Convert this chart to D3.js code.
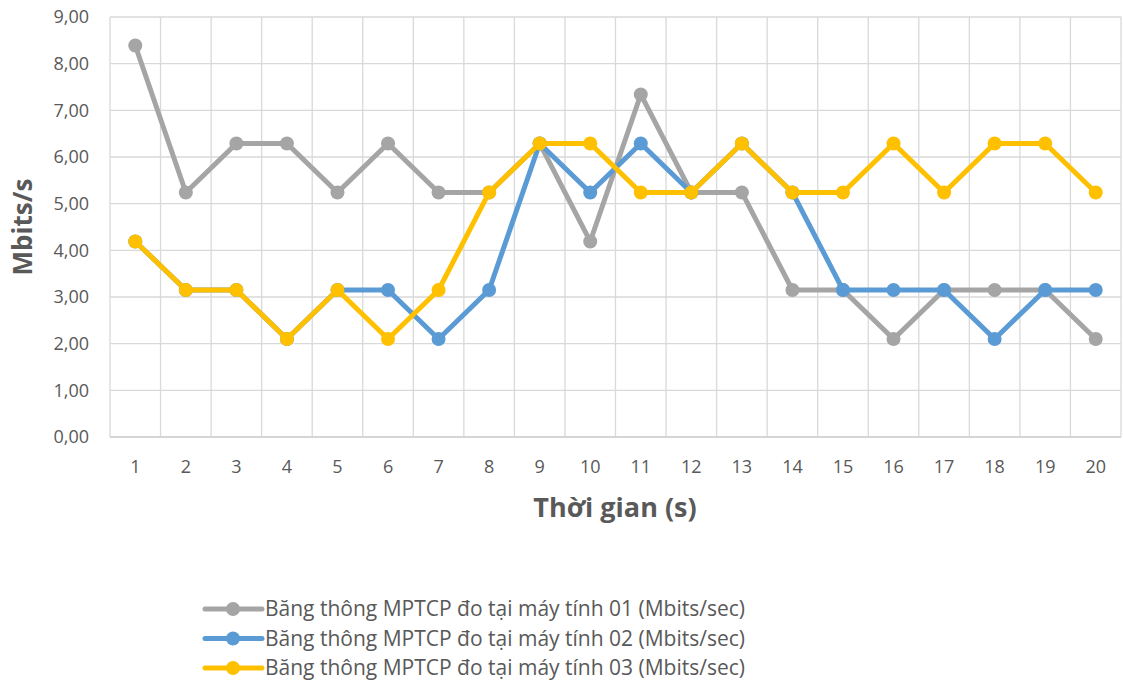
<!DOCTYPE html>
<html><head><meta charset="utf-8">
<script src="https://cdn.jsdelivr.net/npm/d3@7"></script>
<style>body{margin:0;background:#fff}svg{display:block}</style>
</head><body>
<svg id="c" width="1123" height="683"></svg>
<script>
const categories = ["1","2","3","4","5","6","7","8","9","10","11","12","13","14","15","16","17","18","19","20"];
const seriesNames = [
  "Băng thông MPTCP đo tại máy tính 01 (Mbits/sec)",
  "Băng thông MPTCP đo tại máy tính 02 (Mbits/sec)",
  "Băng thông MPTCP đo tại máy tính 03 (Mbits/sec)"
];
const may01 = [8.39,5.24,6.29,6.29,5.24,6.29,5.24,5.24,6.29,4.19,7.34,5.24,5.24,3.15,3.15,2.10,3.15,3.15,3.15,2.10];
const may02 = [4.19,3.15,3.15,2.10,3.15,3.15,2.10,3.15,6.29,5.24,6.29,5.24,6.29,5.24,3.15,3.15,3.15,2.10,3.15,3.15];
const may03 = [4.19,3.15,3.15,2.10,3.15,2.10,3.15,5.24,6.29,6.29,5.24,5.24,6.29,5.24,5.24,6.29,5.24,6.29,6.29,5.24];
const yTicks = [0,1,2,3,4,5,6,7,8,9];
const colors = ["#A5A5A5","#5B9BD5","#FFC000"];
const xTitle = "Thời gian (s)";
const yTitle = "Mbits/s";

const svg = d3.select("#c");
const font = "'Open Sans', Calibri, sans-serif";
const L = 110, R = 1121, T = 17, B = 437;
const x = d3.scaleBand().domain(categories).range([L, R]);
const y = d3.scaleLinear().domain([0, 9]).range([B, T]);

// horizontal gridlines
svg.append("g").selectAll("line").data(yTicks).join("line")
  .attr("x1", L).attr("x2", R).attr("y1", d => y(d)).attr("y2", d => y(d))
  .attr("stroke", "#D9D9D9").attr("stroke-width", 1.3);
// vertical gridlines at band edges
const edges = categories.map(c => x(c)).concat([R]);
svg.append("g").selectAll("line").data(edges).join("line")
  .attr("x1", d => d).attr("x2", d => d).attr("y1", T).attr("y2", B)
  .attr("stroke", "#D9D9D9").attr("stroke-width", 1.3);
// bottom axis line
svg.append("line").attr("x1", L).attr("x2", R).attr("y1", B).attr("y2", B)
  .attr("stroke", "#D0D0D0").attr("stroke-width", 1.5);

// y tick labels
svg.append("g").selectAll("text").data(yTicks).join("text")
  .attr("x", 89).attr("y", d => y(d)).attr("dy", "0.35em")
  .attr("text-anchor", "end").attr("font-family", font).attr("font-size", 18)
  .attr("fill", "#595959").text(d => d3.format(".2f")(d).replace(".", ","));
// x tick labels
svg.append("g").selectAll("text").data(categories).join("text")
  .attr("x", d => x(d) + x.bandwidth() / 2).attr("y", 467).attr("dy", "0.35em")
  .attr("text-anchor", "middle").attr("font-family", font).attr("font-size", 18)
  .attr("fill", "#595959").text(d => d);

// axis titles
svg.append("text").attr("x", 615).attr("y", 508).attr("dy", "0.35em")
  .attr("text-anchor", "middle").attr("font-family", font).attr("font-size", 27)
  .attr("font-weight", "bold").attr("fill", "#595959").text(xTitle);
svg.append("text").attr("transform", `translate(23,${(T + B) / 2}) rotate(-90)`)
  .attr("dy", "0.35em").attr("text-anchor", "middle").attr("font-family", font)
  .attr("font-size", 26).attr("font-weight", "bold").attr("fill", "#595959").text(yTitle);

// series
const data = [may01, may02, may03];
const line = d3.line().x((d, i) => x(categories[i]) + x.bandwidth() / 2).y(d => y(d));
data.forEach((s, k) => {
  const g = svg.append("g");
  g.append("path").attr("d", line(s)).attr("fill", "none").attr("stroke", colors[k])
    .attr("stroke-width", 5).attr("stroke-linejoin", "round").attr("stroke-linecap", "round");
  g.selectAll("circle").data(s).join("circle")
    .attr("cx", (d, i) => x(categories[i]) + x.bandwidth() / 2).attr("cy", d => y(d))
    .attr("r", 7).attr("fill", colors[k]);
});

// legend
const lg = svg.append("g");
seriesNames.forEach((n, k) => {
  const yy = 609 + k * 29.5;
  lg.append("line").attr("x1", 205).attr("x2", 262).attr("y1", yy).attr("y2", yy)
    .attr("stroke", colors[k]).attr("stroke-width", 5).attr("stroke-linecap", "round");
  lg.append("circle").attr("cx", 233).attr("cy", yy).attr("r", 7).attr("fill", colors[k]);
  lg.append("text").attr("x", 265).attr("y", yy).attr("dy", "0.35em")
    .attr("font-family", font).attr("font-size", 21).attr("fill", "#595959").text(n);
});
</script>
</body></html>
